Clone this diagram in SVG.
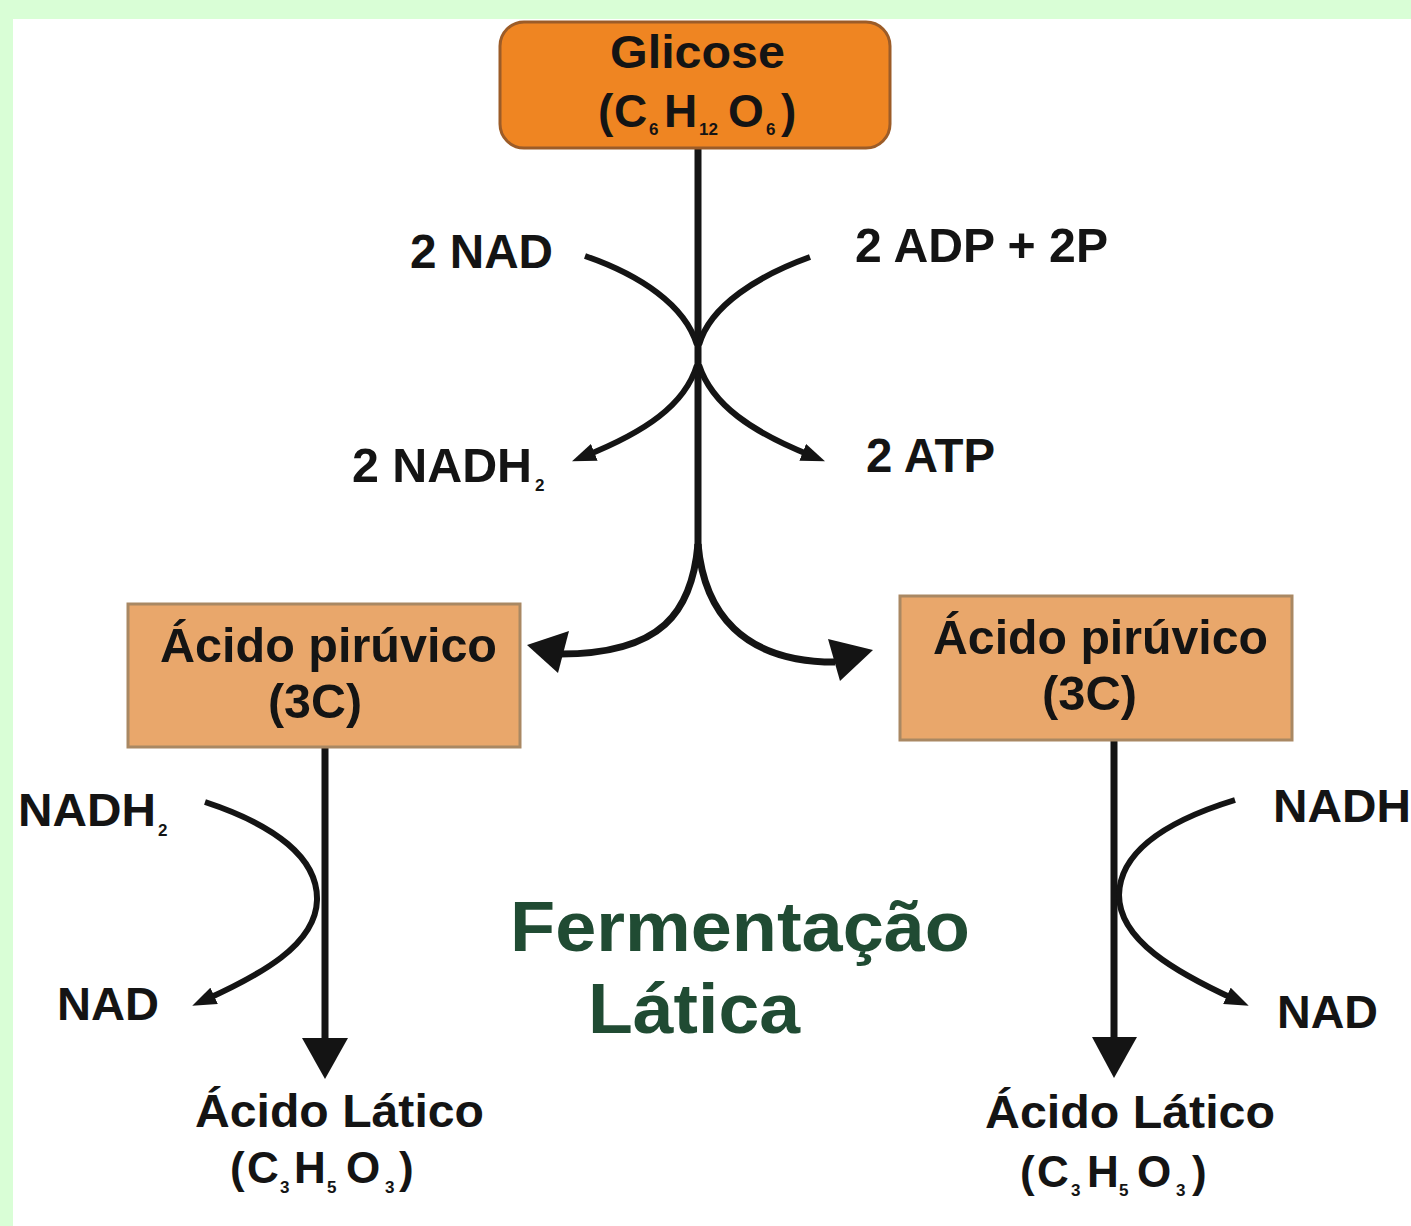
<svg xmlns="http://www.w3.org/2000/svg" width="1411" height="1226" viewBox="0 0 1411 1226">
<defs>
<style>
.t{font-family:"Liberation Sans",Arial,sans-serif;font-weight:bold;fill:#141414}
.sub{font-size:17px}
.ln{fill:none;stroke:#141414;stroke-width:7;stroke-linecap:butt}
.cv{fill:none;stroke:#141414;stroke-width:6}
.ah{fill:#141414}
</style>
<marker id="sm" viewBox="0 0 24 18" refX="10" refY="9" markerWidth="24" markerHeight="18" markerUnits="userSpaceOnUse" orient="auto">
<path d="M0,0 L24,9 L0,18 Z" fill="#141414"/>
</marker>
</defs>
<rect x="0" y="0" width="1411" height="1226" fill="#ffffff"/>
<rect x="0" y="0" width="1411" height="19" fill="#d9fed6"/>
<rect x="0" y="0" width="13" height="1226" fill="#d9fed6"/>

<g id="connectors">
<path class="ln" d="M698,148 L698,550"/>
<path class="ln" d="M698,544 C692,612 662,654 560,654"/>
<path class="ln" d="M698,544 C704,612 742,662 835,662"/>
<polygon class="ah" points="527,645 569,631 558,673"/>
<polygon class="ah" points="873,650 828,639 840,681"/>
<path class="cv" d="M585,256 C640,275 685,305 697,345"/>
<path class="cv" d="M810,257 C760,275 710,305 699,345"/>
<path class="cv" d="M697,365 C685,405 645,432 585,456" marker-end="url(#sm)"/>
<path class="cv" d="M699,365 C712,405 752,432 812,456" marker-end="url(#sm)"/>
<path class="ln" d="M325,747 L325,1045"/>
<polygon class="ah" points="302,1038 348,1038 325,1079"/>
<path class="cv" d="M205,802 C275,825 318,858 317,900 C316,945 260,975 205,1000" marker-end="url(#sm)"/>
<path class="ln" d="M1114,740 L1114,1045"/>
<polygon class="ah" points="1092,1037 1137,1037 1114,1078"/>
<path class="cv" d="M1235,800 C1170,820 1120,850 1119,895 C1119,940 1175,972 1236,1000" marker-end="url(#sm)"/>
</g>

<g id="glicose">
<rect x="500" y="22" width="390" height="126" rx="24" ry="24" fill="#ef8522" stroke="#9c5c28" stroke-width="3"/>
<text class="t" x="610" y="68" font-size="46" textLength="175" lengthAdjust="spacingAndGlyphs">Glicose</text>
<text class="t" font-size="46"><tspan x="598" y="127">(</tspan><tspan x="614" y="127">C</tspan><tspan class="sub" x="649" y="135">6</tspan><tspan x="664" y="127">H</tspan><tspan class="sub" x="699" y="135">12</tspan><tspan x="728" y="127">O</tspan><tspan class="sub" x="766" y="135">6</tspan><tspan x="781" y="127">)</tspan></text>
</g>

<g id="labels-top">
<text class="t" x="410" y="268" font-size="48" textLength="143" lengthAdjust="spacingAndGlyphs">2 NAD</text>
<text class="t" x="855" y="262" font-size="48" textLength="253" lengthAdjust="spacingAndGlyphs">2 ADP + 2P</text>
<text class="t" x="352" y="482" font-size="48" textLength="180" lengthAdjust="spacingAndGlyphs">2 NADH</text>
<text class="t sub" x="535" y="491">2</text>
<text class="t" x="866" y="472" font-size="48" textLength="129" lengthAdjust="spacingAndGlyphs">2 ATP</text>
</g>

<g id="piruvico-esq">
<rect x="128" y="604" width="392" height="143" fill="#e9a76b" stroke="#a98863" stroke-width="3"/>
<text class="t" x="160" y="662" font-size="48" textLength="337" lengthAdjust="spacingAndGlyphs">Ácido pirúvico</text>
<text class="t" x="268" y="718" font-size="48" textLength="94" lengthAdjust="spacingAndGlyphs">(3C)</text>
</g>

<g id="piruvico-dir">
<rect x="900" y="596" width="392" height="144" fill="#e9a76b" stroke="#a98863" stroke-width="3"/>
<text class="t" x="933" y="654" font-size="48" textLength="335" lengthAdjust="spacingAndGlyphs">Ácido pirúvico</text>
<text class="t" x="1042" y="710" font-size="48" textLength="95" lengthAdjust="spacingAndGlyphs">(3C)</text>
</g>

<g id="labels-esq">
<text class="t" x="18" y="826" font-size="46" textLength="138" lengthAdjust="spacingAndGlyphs">NADH</text>
<text class="t sub" x="158" y="836">2</text>
<text class="t" x="57" y="1020" font-size="46" textLength="102" lengthAdjust="spacingAndGlyphs">NAD</text>
</g>

<g id="latico-esq">
<text class="t" x="195" y="1127" font-size="46" textLength="289" lengthAdjust="spacingAndGlyphs">Ácido Lático</text>
<text class="t" font-size="44"><tspan x="230" y="1183">(</tspan><tspan x="247" y="1183">C</tspan><tspan class="sub" x="280" y="1193">3</tspan><tspan x="294" y="1183">H</tspan><tspan class="sub" x="327" y="1193">5</tspan><tspan x="346" y="1183">O</tspan><tspan class="sub" x="385" y="1193">3</tspan><tspan x="399" y="1183">)</tspan></text>
</g>

<g id="labels-dir">
<text class="t" x="1273" y="822" font-size="46" textLength="138" lengthAdjust="spacingAndGlyphs">NADH</text>
<text class="t" x="1277" y="1028" font-size="46" textLength="101" lengthAdjust="spacingAndGlyphs">NAD</text>
</g>

<g id="latico-dir">
<text class="t" x="985" y="1128" font-size="46" textLength="290" lengthAdjust="spacingAndGlyphs">Ácido Lático</text>
<text class="t" font-size="44"><tspan x="1020" y="1187">(</tspan><tspan x="1037" y="1187">C</tspan><tspan class="sub" x="1071" y="1196">3</tspan><tspan x="1087" y="1187">H</tspan><tspan class="sub" x="1119" y="1196">5</tspan><tspan x="1137" y="1187">O</tspan><tspan class="sub" x="1176" y="1196">3</tspan><tspan x="1192" y="1187">)</tspan></text>
</g>

<g id="titulo">
<text class="t" x="510" y="951" font-size="70" textLength="460" lengthAdjust="spacingAndGlyphs" style="fill:#204b33">Fermentação</text>
<text class="t" x="588" y="1033" font-size="70" textLength="212" lengthAdjust="spacingAndGlyphs" style="fill:#204b33">Lática</text>
</g>
</svg>
